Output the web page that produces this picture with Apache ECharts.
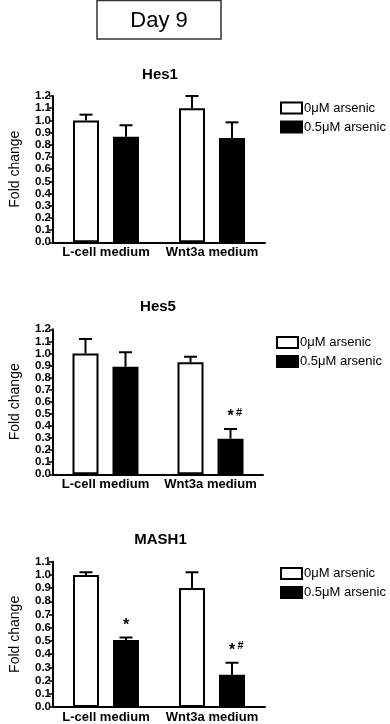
<!DOCTYPE html>
<html>
<head>
<meta charset="utf-8">
<script src="https://cdn.jsdelivr.net/npm/echarts@6/dist/echarts.min.js"></script>
<style>
html,body{margin:0;padding:0;background:#fff;}
#chart{width:390px;height:724px;}
</style>
</head>
<body>
<div id="chart"></div>
<script>
// ---- data ----
const categories = ['L-cell medium', 'Wnt3a medium'];
const seriesNames = ['0\u03bcM arsenic', '0.5\u03bcM arsenic'];
const panelTitles = ['Hes1', 'Hes5', 'MASH1'];
const yMaxes = [1.2, 1.2, 1.1];

const hes1Ctrl = [1.00, 1.10];
const hes1CtrlErr = [0.047, 0.10];
const hes1Ars = [0.866, 0.855];
const hes1ArsErr = [0.094, 0.129];
const hes1Sig = ['', ''];

const hes5Ctrl = [1.00, 0.927];
const hes5CtrlErr = [0.12, 0.046];
const hes5Ars = [0.89, 0.295];
const hes5ArsErr = [0.12, 0.08];
const hes5Sig = ['', '*#'];

const mash1Ctrl = [1.00, 0.90];
const mash1CtrlErr = [0.02, 0.12];
const mash1Ars = [0.508, 0.244];
const mash1ArsErr = [0.018, 0.091];
const mash1Sig = ['*', '*#'];

// ---- layout ----
const FONT = 'Arial, "Liberation Sans", sans-serif';
const grids = [
  {left: 45, top: 96, width: 220, height: 146.3},
  {left: 43, top: 329.3, width: 220, height: 145},
  {left: 46, top: 561.7, width: 219, height: 145.6}
];
const legendPos = [
  {left: 280, top: 101.5},
  {left: 276, top: 336},
  {left: 280, top: 567}
];
const BAR_W = 26, BAR_BORDER = 2, BAR_GAP_PX = 14;
const OFFSET = (BAR_W + BAR_GAP_PX) / 2;

const panels = [
  {ctrl: hes1Ctrl, ctrlErr: hes1CtrlErr, ars: hes1Ars, arsErr: hes1ArsErr, sig: hes1Sig},
  {ctrl: hes5Ctrl, ctrlErr: hes5CtrlErr, ars: hes5Ars, arsErr: hes5ArsErr, sig: hes5Sig},
  {ctrl: mash1Ctrl, ctrlErr: mash1CtrlErr, ars: mash1Ars, arsErr: mash1ArsErr, sig: mash1Sig}
];

function errSeries(idx, vals, errs, sig, offset) {
  return {
    type: 'custom',
    xAxisIndex: idx, yAxisIndex: idx,
    z: 5,
    silent: true,
    data: vals.map((v, i) => [i, v, errs[i]]),
    renderItem: function (params, api) {
      const c = api.value(0), v = api.value(1), e = api.value(2);
      const base = api.coord([c, v]);
      const top = api.coord([c, v + e]);
      const x = base[0] + offset;
      const children = [
        {type: 'line', shape: {x1: x, y1: base[1], x2: x, y2: top[1]}, style: {stroke: '#000', lineWidth: 2}},
        {type: 'line', shape: {x1: x - 6.5, y1: top[1], x2: x + 6.5, y2: top[1]}, style: {stroke: '#000', lineWidth: 2}}
      ];
      const s = sig ? sig[params.dataIndex] : '';
      if (s) {
        children.push({type: 'text', style: {text: '*', x: x, y: top[1] - 4, align: 'center', verticalAlign: 'bottom', font: 'bold 16px ' + FONT, fill: '#000'}});
        if (s.indexOf('#') >= 0) {
          children.push({type: 'text', style: {text: '#', x: x + 8.5, y: top[1] - 11, align: 'center', verticalAlign: 'bottom', font: 'bold 11px ' + FONT, fill: '#000'}});
        }
      }
      return {type: 'group', children: children};
    }
  };
}

const option = {
  animation: false,
  backgroundColor: '#fff',
  title: panelTitles.map((t, i) => ({
    text: t,
    left: grids[i].left + grids[i].width / 2,
    top: [62, 294, 527][i],
    textAlign: 'center',
    textStyle: {fontFamily: FONT, fontWeight: 'bold', fontSize: 15, color: '#000'}
  })),
  graphic: [
    {type: 'rect', shape: {x: 97, y: 0.5, width: 124, height: 38.5}, style: {fill: '#fff', stroke: '#333', lineWidth: 1.5}},
    {type: 'text', style: {text: 'Day 9', x: 159, y: 20.5, align: 'center', verticalAlign: 'middle', font: '22px ' + FONT, fill: '#000'}}
  ],
  legend: legendPos.map((p) => ({
    left: p.left, top: p.top,
    orient: 'vertical',
    padding: 0,
    itemGap: 6,
    itemWidth: 21, itemHeight: 11,
    icon: 'rect',
    data: seriesNames,
    selectedMode: false,
    textStyle: {fontFamily: FONT, fontSize: 13, color: '#000', lineHeight: 11, padding: [0, 0, 0, -3]}
  })),
  grid: grids,
  xAxis: grids.map((g, i) => ({
    type: 'category', gridIndex: i, data: categories,
    axisLine: {lineStyle: {color: '#000', width: 2}},
    axisTick: {alignWithLabel: true, length: 3, lineStyle: {color: '#000', width: 1.5}},
    axisLabel: {interval: 0, fontFamily: FONT, fontWeight: 'bold', fontSize: 13, color: '#000', margin: 4}
  })),
  yAxis: grids.map((g, i) => ({
    type: 'value', gridIndex: i, min: 0, max: yMaxes[i], interval: 0.1,
    name: 'Fold change', nameLocation: 'middle', nameGap: 31,
    nameTextStyle: {fontFamily: FONT, fontSize: 14, color: '#000'},
    axisLine: {show: true, lineStyle: {color: '#000', width: 2}},
    axisTick: {show: true, length: 4, lineStyle: {color: '#000', width: 1.5}},
    splitLine: {show: false},
    axisLabel: {fontFamily: FONT, fontWeight: 'bold', fontSize: 11.5, color: '#000', margin: 2,
      formatter: (v) => v.toFixed(1)}
  })),
  series: []
};

panels.forEach((p, i) => {
  option.series.push({
    type: 'bar', name: seriesNames[0], xAxisIndex: i, yAxisIndex: i,
    data: p.ctrl, barWidth: BAR_W, barGap: (BAR_GAP_PX / BAR_W * 100) + '%',
    itemStyle: {color: '#fff', borderColor: '#000', borderWidth: BAR_BORDER}
  });
  option.series.push({
    type: 'bar', name: seriesNames[1], xAxisIndex: i, yAxisIndex: i,
    data: p.ars, barWidth: BAR_W,
    itemStyle: {color: '#000', borderColor: '#000', borderWidth: BAR_BORDER}
  });
  option.series.push(errSeries(i, p.ctrl, p.ctrlErr, null, -OFFSET));
  option.series.push(errSeries(i, p.ars, p.arsErr, p.sig, OFFSET));
});

const chart = echarts.init(document.getElementById('chart'), null, {renderer: 'canvas'});
chart.setOption(option);
</script>
</body>
</html>
